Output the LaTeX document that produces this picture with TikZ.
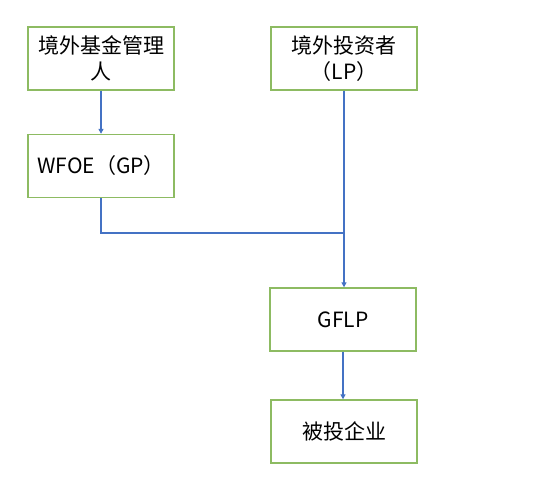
\documentclass[tikz,border=0pt]{standalone}
\usepackage{fontspec}
\setmainfont{Noto Sans CJK SC}
\usetikzlibrary{arrows.meta}
\definecolor{boxgreen}{HTML}{8DBB62}
\definecolor{lineblue}{HTML}{4472C4}
\begin{document}
\begin{tikzpicture}[x=1pt,y=-1pt,
  box/.style={draw=boxgreen,line width=1.4pt,fill=white,minimum width=146pt,minimum height=63pt,inner sep=0pt,align=center,font=\fontsize{21}{26}\selectfont},
  conn/.style={draw=lineblue,line width=1.3pt},
  arr/.style={conn,-{Triangle[length=5pt,width=5pt]}}]
\useasboundingbox (0,0) rectangle (548,485);
\node[box] (mgr) at (101,58.5) {境外基金管理\\人};
\node[box] (lp) at (344,58.5) {境外投资者\\（LP）};
\node[box] (gp) at (101,166) {WFOE（GP）};
\node[box] (gflp) at (343,319.5) {GFLP};
\node[box] (co) at (344,431.5) {被投企业};
\coordinate (j) at (344,233);
\draw[arr] (mgr.south) -- (gp.north);
\draw[conn] (gp.south) |- (j);
\draw[arr] (lp.south) -- (lp.south |- gflp.north);
\draw[arr] (gflp.south) -- (gflp.south |- co.north);
\end{tikzpicture}
\end{document}
